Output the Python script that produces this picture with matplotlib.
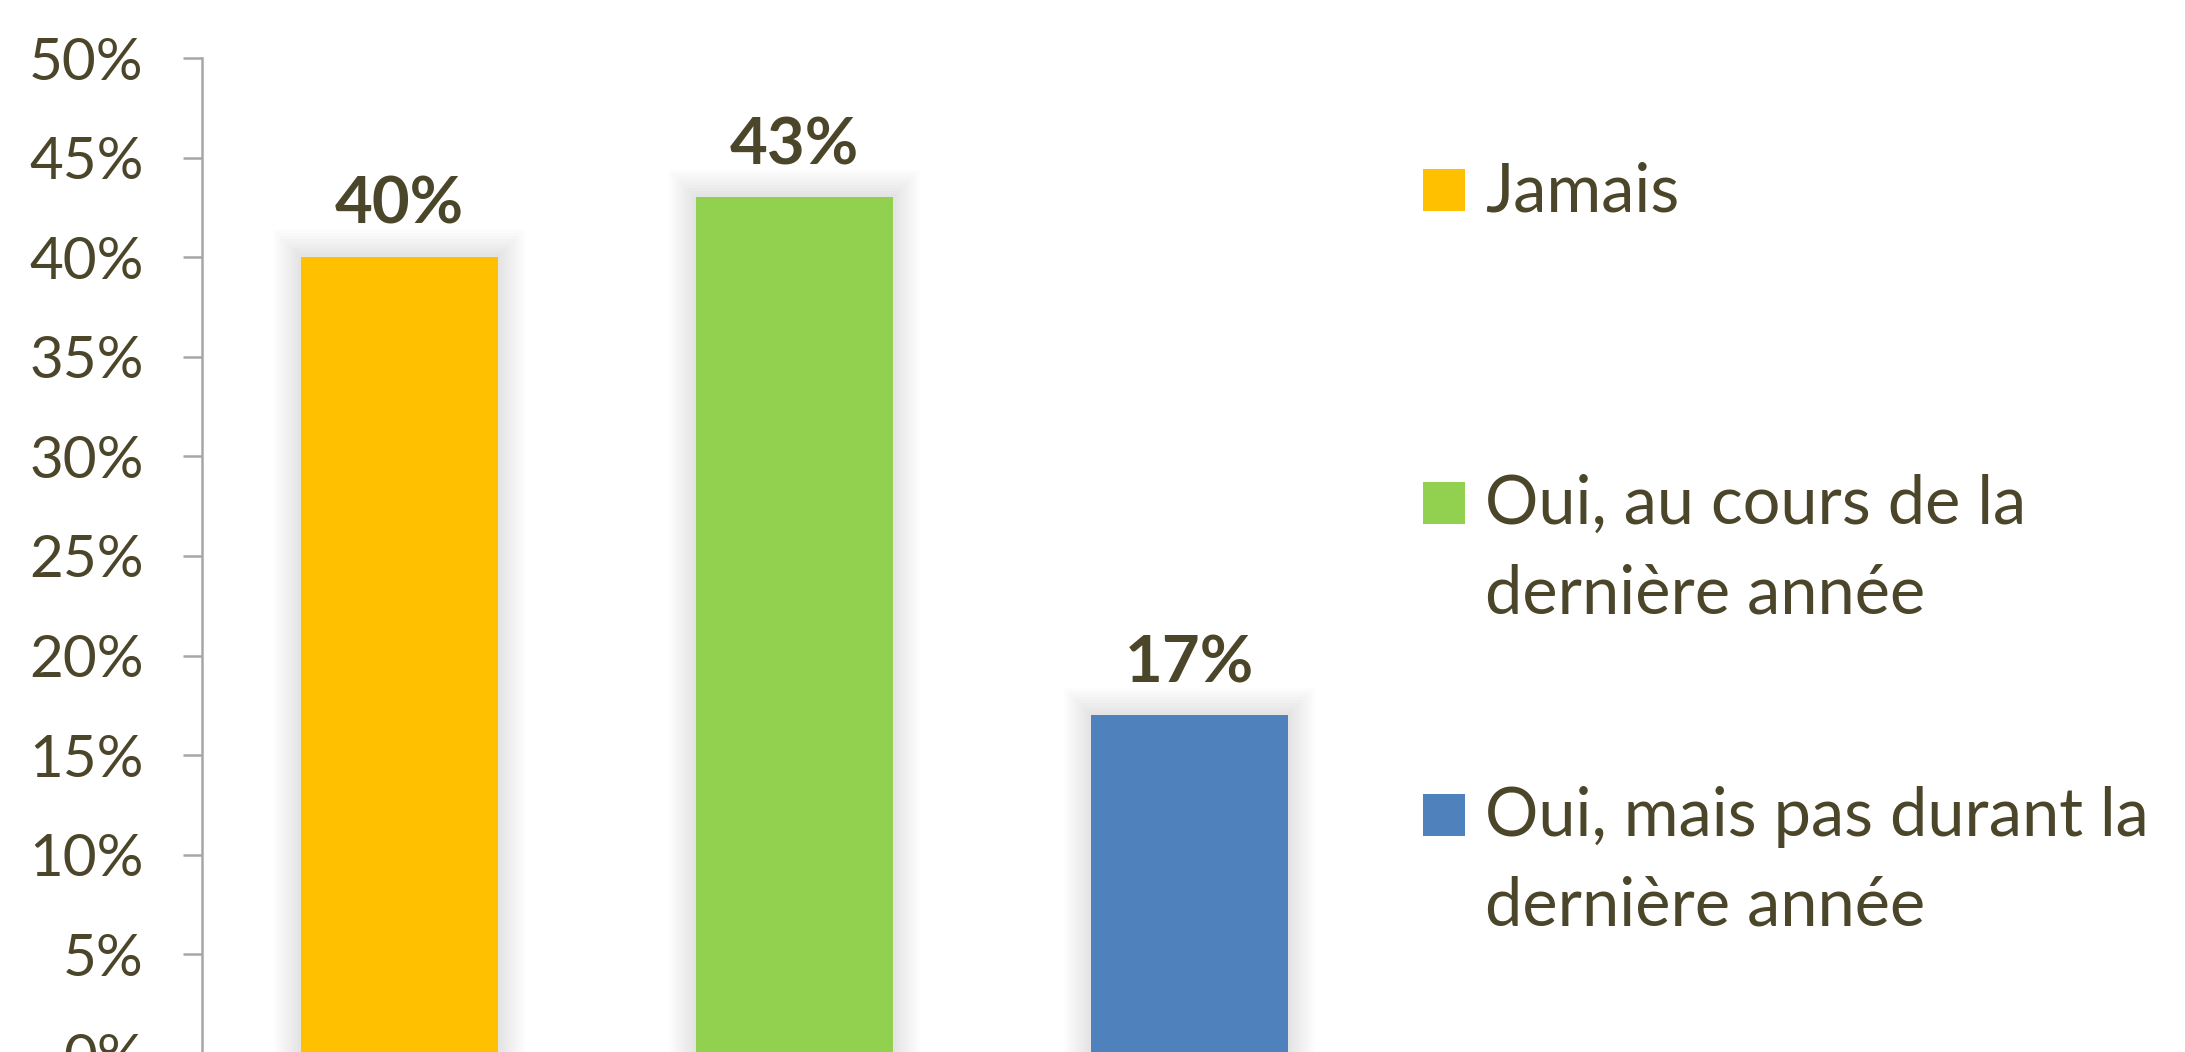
import matplotlib
matplotlib.use('Agg')
import matplotlib.pyplot as plt
import numpy as np
from matplotlib.patches import Rectangle
from matplotlib.ticker import PercentFormatter, MultipleLocator

# Data
categories = ['Jamais', 'Oui, au cours de la\ndernière année', 'Oui, mais pas durant la\ndernière année']
values = [0.40, 0.43, 0.17]
colors = ['#FFC000', '#92D050', '#4F81BD']

TEXT = '#4B4529'
plt.rcParams['font.family'] = ['Lato', 'DejaVu Sans']

W, H = 2185, 1052
fig = plt.figure(figsize=(W / 100, H / 100), dpi=100)
fig.patch.set_facecolor('white')

# axes placed in pixel units (0% sits just below the bottom edge, as in the source)
ax_left, ax_right, ax_top, ax_zero = 202, 1387, 58, 1054
ax = fig.add_axes([ax_left / W, (H - ax_zero) / H,
                   (ax_right - ax_left) / W, (ax_zero - ax_top) / H])
ax.set_facecolor('none')

x = np.arange(len(values))
bar_w = 0.5

# soft glow behind bars
px_x = 3.0 / (ax_right - ax_left)
px_y = 0.5 / (ax_zero - ax_top)
for k in range(1, 10):
    ax.bar(x, np.array(values) + k * 3 * px_y, bar_w + 2 * k * 3 * px_x,
           color='black', alpha=0.011, linewidth=0, zorder=1)

ax.bar(x, values, bar_w, color=colors, linewidth=0, zorder=3)

for xi, v in zip(x, values):
    ax.annotate(f'{v * 100:.0f}%', xy=(xi, v), xytext=(0, 16),
                textcoords='offset points', ha='center', va='bottom',
                fontsize=47, fontweight='bold', color=TEXT, zorder=5)

ax.set_xlim(-0.5, 2.5)
ax.set_ylim(0, 0.5)
ax.yaxis.set_major_locator(MultipleLocator(0.05))
ax.yaxis.set_major_formatter(PercentFormatter(1.0, decimals=0))
ax.set_xticks([])

for s in ['top', 'right', 'bottom']:
    ax.spines[s].set_visible(False)
ax.spines['left'].set_color('#A6A6A6')
ax.spines['left'].set_linewidth(1.8)
ax.tick_params(axis='y', length=14, width=1.8, color='#A6A6A6',
               labelsize=42, labelcolor=TEXT, pad=28)

# legend drawn by hand to keep the square beside the first line
sq_left, sq_size, text_x = 1423, 42, 1485
first_top, step, line_h = 169, 312.5, 90
for i, (label, c) in enumerate(zip(categories, colors)):
    top = first_top + i * step
    fig.patches.append(Rectangle((sq_left / W, 1 - (top + sq_size) / H),
                                 sq_size / W, sq_size / H,
                                 transform=fig.transFigure, facecolor=c,
                                 edgecolor='none'))
    baseline = top + 42
    for j, line in enumerate(label.split('\n')):
        fig.text(text_x / W, 1 - (baseline + j * line_h) / H, line,
                 ha='left', va='baseline', fontsize=48, color=TEXT)

fig.savefig('out.png', dpi=100, facecolor='white')
